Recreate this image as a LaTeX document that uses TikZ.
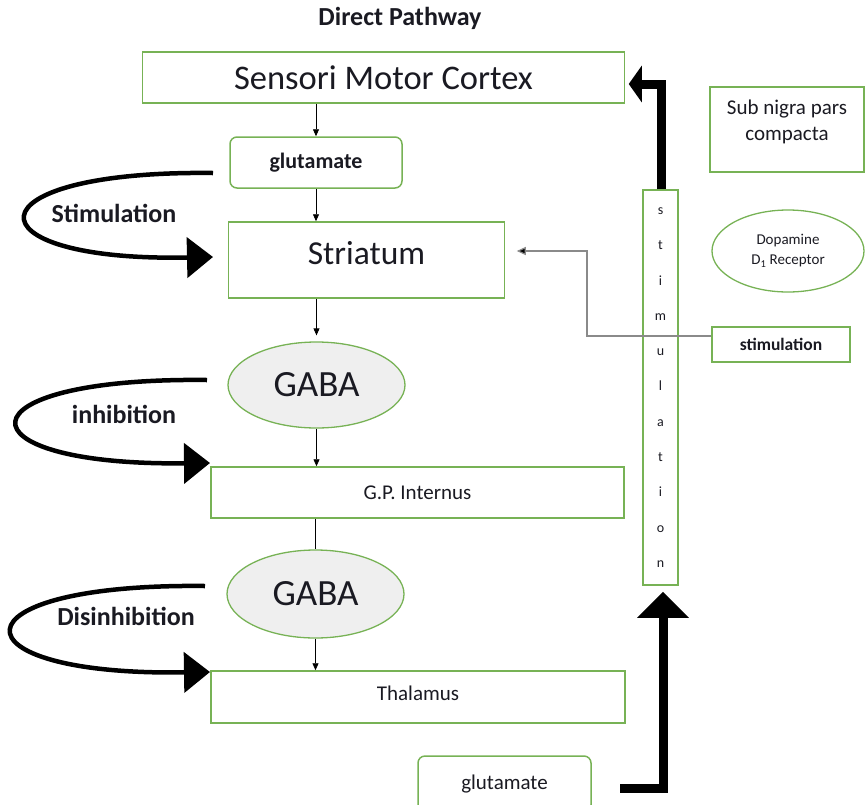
\documentclass[tikz,border=0pt]{standalone}
\usepackage{fontspec}
\setmainfont{Carlito}
\usetikzlibrary{arrows.meta,shapes.geometric}
\definecolor{grn}{HTML}{77B255}
\definecolor{gabafill}{HTML}{EFEFEF}
\definecolor{txt}{HTML}{1A1A22}
\definecolor{gline}{HTML}{8A8A8A}
\begin{document}
\begin{tikzpicture}[x=1pt,y=-1pt,
  every node/.style={text=txt},
  box/.style={draw=grn,line width=1.5pt,inner sep=0pt,fill=white},
  rbox/.style={box,rounded corners=7pt},
  gaba/.style={ellipse,draw=grn,line width=1.3pt,fill=gabafill,inner sep=0pt},
  thinarrow/.style={-{Triangle[length=7pt,width=6pt]},line width=0.8pt},
  bigcurve/.style={line width=4.5pt,-{Triangle[length=26pt,width=40pt]}},
  bigbend/.style={line width=9pt,line join=miter},
  grayarrow/.style={draw=gline,line width=1.2pt,-{Triangle[length=9pt,width=8pt,fill=black]}}
]
\useasboundingbox (0,0) rectangle (865,804);

% title
\node[font=\fontsize{26}{30}\bfseries\selectfont] (title) at (400,18) {Direct Pathway};

% main column
\node[box,minimum width=482pt,minimum height=51pt,font=\fontsize{34.5}{38}\selectfont] (cortex) at (383.5,77.5) {Sensori Motor Cortex};
\node[rbox,minimum width=172pt,minimum height=51pt,font=\fontsize{22}{26}\bfseries\selectfont] (glut1) at (316,162.5) {glutamate};
\node[box,minimum width=276pt,minimum height=76pt] (striatum) at (366.5,260) {};
\node[font=\fontsize{33.5}{38}\selectfont] (striatumtxt) at (366.5,253) {Striatum};
\node[gaba,minimum width=177pt,minimum height=86pt,font=\fontsize{37}{40}\selectfont] (gaba1) at (316.5,385) {GABA};
\node[box,minimum width=413pt,minimum height=51pt,font=\fontsize{21}{25}\selectfont] (gpi) at (417.5,492.5) {G.P. Internus};
\node[gaba,minimum width=177pt,minimum height=88pt,font=\fontsize{37}{40}\selectfont] (gaba2) at (315.5,594) {GABA};
\node[box,minimum width=414pt,minimum height=52pt] (thal) at (418,697) {};
\node[font=\fontsize{21}{25}\selectfont] (thaltxt) at (418,693) {Thalamus};
\node[rbox,minimum width=173pt,minimum height=56pt,font=\fontsize{21}{25}\selectfont] (glut2) at (504.5,784) {glutamate};

% right side
\node[box,minimum width=154pt,minimum height=85pt] (subnigra) at (787,129.5) {};
\node[font=\fontsize{21}{26}\selectfont,align=center] (subnigratxt) at (787,122) {Sub nigra pars\\compacta};
\node[ellipse,draw=grn,line width=1.3pt,inner sep=0pt,minimum width=152pt,minimum height=82pt,font=\fontsize{15}{20}\selectfont,align=center] (dopa) at (788,251) {Dopamine\\D\textsubscript{1} Receptor};
\node[box,minimum width=138pt,minimum height=35pt,font=\fontsize{17.5}{20}\bfseries\selectfont] (stimbox) at (781,344.5) {stimulation};
\node[draw=grn,line width=1.5pt,inner sep=0pt,minimum width=35pt,minimum height=395pt,align=center,font=\fontsize{14}{35.3}\selectfont] (stimv) at (660.5,387.5) {s\\t\\i\\m\\u\\l\\a\\t\\i\\o\\n};

% thin connectors
\draw[thinarrow] (cortex.south -| glut1.north) -- (glut1.north);
\draw[thinarrow] (glut1.south) -- (glut1.south |- striatum.north);
\draw[thinarrow,shorten >=6pt] (striatum.south -| gaba1.north) -- (gaba1.north);
\draw[thinarrow] (gaba1.south) -- (gaba1.south |- gpi.north);
\draw[line width=0.8pt] (gpi.south -| gaba2.north) -- (gaba2.north);
\draw[thinarrow] (gaba2.south) -- (gaba2.south |- thal.north);

% gray stimulation line
\coordinate (bend) at (587,251);
\draw[grayarrow] ([yshift=8.5pt]stimbox.west) -| (bend) -- ([xshift=11.5pt,yshift=9pt]striatum.east);

% thick bent arrows
\draw[bigbend,-{Triangle[length=13pt,width=36pt]}] ([xshift=1pt]stimv.north) |- ([xshift=3.5pt,yshift=-6.5pt]cortex.east);
\coordinate (gstart) at (620,788);
\draw[bigbend,-{Triangle[length=26pt,width=50pt]},shorten >=6pt] (gstart) -| ([xshift=2.5pt]stimv.south);

% curved arrows
\coordinate (c1s) at (213,173);
\coordinate (c1e) at (213,257);
\draw[bigcurve] (c1s) .. controls (-35,170) and (-35,262) .. (c1e);
\node[font=\fontsize{26}{30}\bfseries\selectfont] (lab1) at (114,213) {Stimulation};

\coordinate (c2s) at (207,380);
\coordinate (c2e) at (210,463);
\draw[bigcurve] (c2s) .. controls (-45,377) and (-45,466) .. (c2e);
\node[font=\fontsize{26}{30}\bfseries\selectfont] (lab2) at (124,414) {inhibition};

\coordinate (c3s) at (205,586);
\coordinate (c3e) at (210,672);
\draw[bigcurve] (c3s) .. controls (-52,583) and (-52,676) .. (c3e);
\node[font=\fontsize{26}{30}\bfseries\selectfont] (lab3) at (126,616) {Disinhibition};
\end{tikzpicture}
\end{document}
